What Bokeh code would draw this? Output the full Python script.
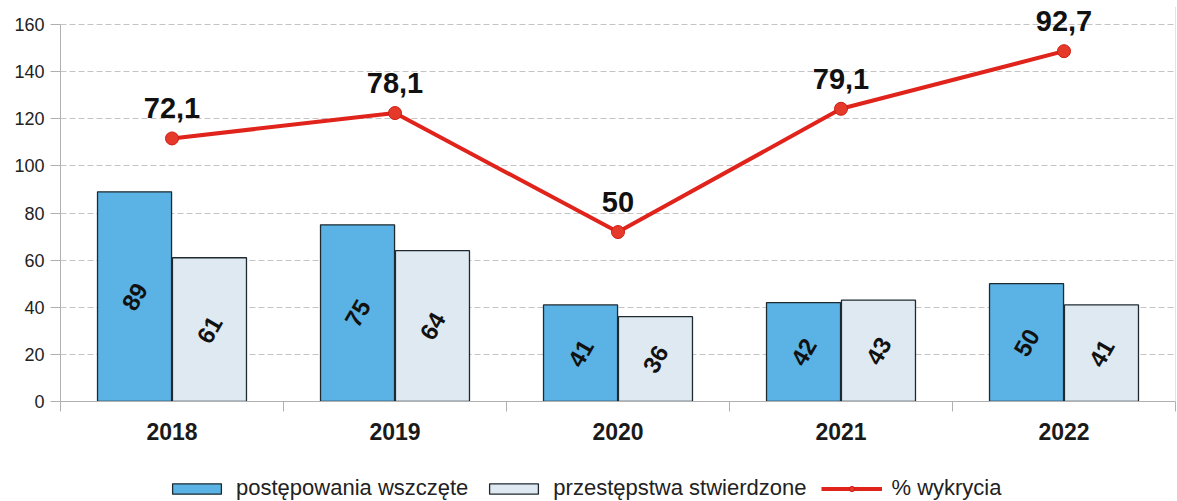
import math
from bokeh.plotting import figure
from bokeh.layouts import column
from bokeh.models import (ColumnDataSource, Range1d, FixedTicker, Legend, LegendItem, Span, LabelSet)
from bokeh.core.properties import value
from bokeh.embed import file_html
from bokeh.resources import INLINE

years = ["2018", "2019", "2020", "2021", "2022"]
wszczete = [89, 75, 41, 42, 50]
stwierdzone = [61, 64, 36, 43, 41]
wykrycia = [72.1, 78.1, 50, 79.1, 92.7]
wykrycia_labels = ["72,1", "78,1", "50", "79,1", "92,7"]
y_ticks = [0, 20, 40, 60, 80, 100, 120, 140, 160]
series_names = ["postępowania wszczęte", "przestępstwa stwierdzone", "% wykrycia"]

BLUE = "#5ab3e4"
LIGHT = "#dfe9f1"
EDGE = "#1f2a30"
RED = "#e0231b"

centers = [i + 0.5 for i in range(len(years))]
BW = 0.332
OFF = 0.168

# layout: axis 0..160 drawn over 377 px, frame extended upward for labels
Y_MAX = y_ticks[-1]
PX_PER_UNIT = 377 / Y_MAX
EXTRA_TOP_PX = 18
Y_END = Y_MAX + EXTRA_TOP_PX / PX_PER_UNIT
PCT_LO, PCT_HI = 10, 99
PCT_END = PCT_LO + Y_END * (PCT_HI - PCT_LO) / Y_MAX

src = ColumnDataSource(dict(
    xc=centers,
    x1=[c - OFF for c in centers],
    x2=[c + OFF for c in centers],
    a=wszczete, b=stwierdzone,
    a_half=[v / 2 for v in wszczete], b_half=[v / 2 for v in stwierdzone],
    a_txt=[str(v) for v in wszczete], b_txt=[str(v) for v in stwierdzone],
    p=wykrycia, p_txt=wykrycia_labels,
))

p = figure(width=1176, height=476, output_backend="svg", toolbar_location=None,
           x_range=Range1d(0, len(years)), y_range=Range1d(0, Y_END),
           min_border_left=60, min_border_right=1, min_border_top=24 - EXTRA_TOP_PX,
           min_border_bottom=75)
p.extra_y_ranges = {"pct": Range1d(PCT_LO, PCT_END)}
p.outline_line_color = None
p.background_fill_color = "white"

# grid
p.xgrid.grid_line_color = None
p.ygrid.ticker = FixedTicker(ticks=y_ticks)
p.ygrid.grid_line_color = "#c4c4c4"
p.ygrid.grid_line_dash = "6 3"
p.ygrid.grid_line_width = 1

# y axis
p.yaxis.ticker = FixedTicker(ticks=y_ticks)
p.yaxis.bounds = (0, Y_MAX)
p.yaxis.axis_line_color = "#b0b0b0"
p.yaxis.major_tick_line_color = "#b0b0b0"
p.yaxis.major_tick_out = 10
p.yaxis.major_tick_in = 0
p.yaxis.minor_tick_line_color = None
p.yaxis.major_label_text_font = "Liberation Sans"
p.yaxis.major_label_text_font_size = "18px"
p.yaxis.major_label_text_color = "#222222"
p.yaxis.major_label_standoff = 6

# x axis
p.xaxis.ticker = FixedTicker(ticks=centers, minor_ticks=list(range(len(years) + 1)))
p.xaxis.major_label_overrides = {c: y for c, y in zip(centers, years)}
p.xaxis.axis_line_color = "#b0b0b0"
p.xaxis.major_tick_line_color = None
p.xaxis.minor_tick_line_color = "#b0b0b0"
p.xaxis.minor_tick_out = 10
p.xaxis.minor_tick_in = 0
p.xaxis.major_label_text_font = "Liberation Sans"
p.xaxis.major_label_text_font_style = "bold"
p.xaxis.major_label_text_font_size = "23px"
p.xaxis.major_label_text_color = "#1a1a1a"
p.xaxis.major_label_standoff = 11

p.add_layout(Span(location=len(years), dimension="height", line_color="#c8c8c8", line_width=1))

# bars
p.vbar(x="x1", top="a", width=BW, bottom=0, source=src,
       fill_color=BLUE, line_color=EDGE, line_width=1.3)
p.vbar(x="x2", top="b", width=BW, bottom=0, source=src,
       fill_color=LIGHT, line_color=EDGE, line_width=1.3)

ang = math.pi / 3
for xcol, ycol, tcol in (("x1", "a_half", "a_txt"), ("x2", "b_half", "b_txt")):
    p.text(x=xcol, y=ycol, text=tcol, source=src, angle=ang,
           text_align="center", text_baseline="middle",
           text_font=value("Liberation Sans"), text_font_style="bold",
           text_font_size="24px", text_color="#111111")

# line (secondary hidden scale)
p.line(x="xc", y="p", source=src, y_range_name="pct", line_color=RED, line_width=4)
p.scatter(x="xc", y="p", source=src, y_range_name="pct", size=13,
          fill_color="#e53a2a", line_color="#d01e14", line_width=1)
p.add_layout(LabelSet(x="xc", y="p", text="p_txt", source=src, y_range_name="pct",
                      text_align="center", text_baseline="middle", y_offset=30,
                      text_font=value("Liberation Sans"), text_font_style="bold",
                      text_font_size="29px", text_color="#111111"))

# legend strip
lf = figure(width=1176, height=25, output_backend="svg", toolbar_location=None,
            x_range=Range1d(0, 1), y_range=Range1d(0, 1), min_border=0)
lf.axis.visible = False
lf.grid.grid_line_color = None
lf.outline_line_color = None
nan = float("nan")
dummy = ColumnDataSource(dict(x=[nan], y=[nan], t=[nan]))
lr1 = lf.vbar(x="x", top="t", width=0.1, source=dummy, fill_color=BLUE, line_color=EDGE, line_width=1.3)
lr2 = lf.vbar(x="x", top="t", width=0.1, source=dummy, fill_color=LIGHT, line_color=EDGE, line_width=1.3)
lr3 = lf.line(x="x", y="y", source=dummy, line_color=RED, line_width=4)
lr4 = lf.scatter(x="x", y="y", source=dummy, size=13, fill_color="#e53a2a", line_color="#d01e14")
legend = Legend(items=[
    LegendItem(label=series_names[0], renderers=[lr1]),
    LegendItem(label=series_names[1], renderers=[lr2]),
    LegendItem(label=series_names[2], renderers=[lr3, lr4]),
], orientation="horizontal", location=(106, 0))
legend.label_text_font = "Liberation Sans"
legend.label_text_font_size = "22px"
legend.label_text_color = "#222222"
legend.label_height = 14
legend.glyph_width = 61
legend.glyph_height = 13
legend.spacing = 15
legend.label_standoff = 9
legend.border_line_color = None
legend.background_fill_alpha = 0
legend.padding = 0
legend.margin = 0
lf.add_layout(legend, "center")

layout = column(p, lf, spacing=0)
open("out.html", "w").write(file_html(layout, INLINE))
